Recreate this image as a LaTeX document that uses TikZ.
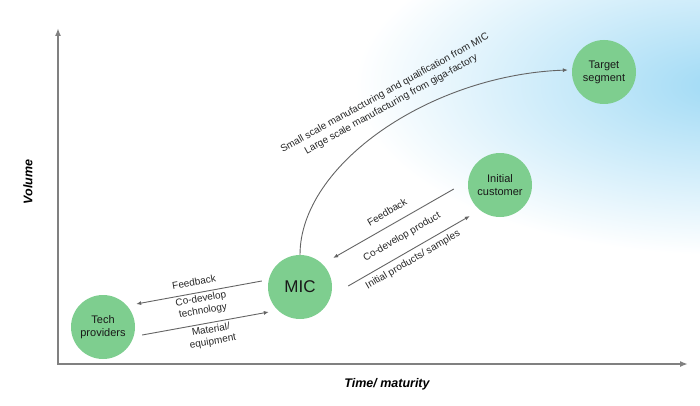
\documentclass[tikz,border=0pt]{standalone}
\usepackage{fontspec}
\setmainfont{Liberation Sans}
\usetikzlibrary{arrows.meta}
\definecolor{leafgreen}{RGB}{126,206,143}
\definecolor{skyblue}{RGB}{160,218,245}
\definecolor{linegray}{RGB}{100,100,100}
\definecolor{axisgray}{RGB}{128,128,128}
\begin{document}
\begin{tikzpicture}[x=1pt, y=1pt,
    stage/.style={circle, fill=leafgreen, minimum size=64pt, inner sep=0pt, align=center, text=black!90, font=\fontsize{11}{13}\selectfont},
    flow/.style={draw=linegray, line width=0.9pt, -{Latex[length=5pt,width=4pt]}},
    note/.style={align=center, text=black!85, font=\fontsize{10}{12}\selectfont},
    axislabel/.style={font=\fontsize{12.5}{14}\selectfont\bfseries\itshape},
    axis/.style={draw=axisgray, line width=1.6pt, {Latex[length=8pt,width=6pt]}-{Latex[length=8pt,width=6pt]}}]
    \useasboundingbox (0,0) rectangle (700,405);
    \begin{scope}
        \clip (0,0) rectangle (700,405);
        \shade[inner color=skyblue, outer color=white] (725,320) ellipse (370pt and 170pt);
    \end{scope}
    \coordinate (ytop) at (58,377);
    \coordinate (origin) at (58,41);
    \coordinate (xend) at (688,41);
    \draw[axis] (ytop) -- (origin) -- (xend);
    \node[axislabel, rotate=90] (volume) at (28,223) {Volume};
    \node[axislabel] (time) at (387,21) {Time/ maturity};
    \node[stage] (tech) at (103,78) {Tech\\providers};
    \node[stage, font=\fontsize{17}{19}\selectfont] (mic) at (300,118) {MIC};
    \node[stage] (cust) at (500,220) {Initial\\customer};
    \node[stage] (target) at (604,333) {Target\\segment};
    \draw[flow] ([shift={(-6,6)}]mic.west) -- ([shift={(1,23)}]tech.east);
    \draw[flow] ([shift={(7,-8)}]tech.east) -- ([shift={(1,-25)}]mic.west);
    \draw[flow] ([shift={(-14,-4)}]cust.west) -- ([shift={(1,29)}]mic.east);
    \draw[flow] ([shift={(16,1)}]mic.east) -- ([shift={(2,-31)}]cust.west);
    \draw[flow] (mic.north) .. controls +(0,90) and +(-138,-5) .. ([shift={(-4,2)}]target.west);
    \node[note, rotate=10] (fbtech) at (194,123) {Feedback};
    \node[note, rotate=10] (codevtech) at (202,100) {Co-develop\\technology};
    \node[note, rotate=10] (material) at (212,69) {Material/\\equipment};
    \node[note, rotate=30] (fbcust) at (387,193) {Feedback};
    \node[note, rotate=30] (codevcust) at (402,168) {Co-develop product};
    \node[note, rotate=30] (samples) at (413,145) {Initial products/ samples};
    \node[note, rotate=29, font=\fontsize{10}{13}\selectfont] (scaleup) at (388,306) {Small scale manufacturing and qualification from MIC\\Large scale manufacturing from giga-factory};
\end{tikzpicture}
\end{document}
